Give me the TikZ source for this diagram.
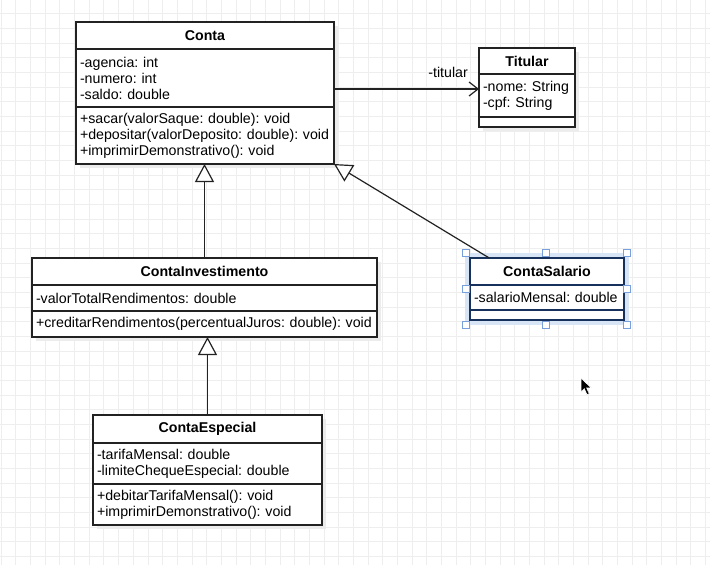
\documentclass[tikz,border=0pt]{standalone}
\usepackage{fontspec}
\setmainfont{Liberation Sans}
\usepackage{xcolor}
\usetikzlibrary{calc,positioning,arrows.meta}

\definecolor{lineC}{RGB}{34,34,34}
\definecolor{gridC}{RGB}{238,238,238}
\definecolor{selC}{RGB}{22,50,92}
\definecolor{handleC}{RGB}{120,160,220}
\definecolor{glowC}{RGB}{216,229,246}
\definecolor{shadeC}{RGB}{236,236,236}

\pgfdeclarelayer{grid}\pgfdeclarelayer{shade}
\pgfsetlayers{grid,shade,main}
\frenchspacing
\hyphenpenalty=10000

\tikzset{
  umlbox/.style={draw=lineC, line width=1.3pt, fill=white, outer sep=0pt,
    inner xsep=4pt, inner ysep=3pt, font=\fontsize{14.2}{16}\selectfont},
  umltitle/.style={umlbox, font=\fontsize{14.2}{16}\selectfont\bfseries,
    minimum width=#1, minimum height=27pt, align=center},
  umlpart/.style={umlbox, text width=#1, align=left},
  umlsel/.style={draw=selC, line width=1.8pt},
  gridline/.style={draw=gridC, line width=0.8pt},
  inherit/.style={draw=lineC, line width=1.2pt,
    -{Triangle[length=18pt,width=19pt,fill=white]}},
  assoc/.style={draw=lineC, line width=1.2pt, -{Straight Barb[length=9pt,width=14pt]}},
  handle/.style={draw=handleC, fill=white, line width=0.8pt, minimum size=7pt,
    inner sep=0pt, outer sep=0pt}
}

\begin{document}
\begin{tikzpicture}[x=1pt,y=-1pt]
  \useasboundingbox (0,0) rectangle (710,565);

  % grid of the canvas
  \begin{pgfonlayer}{grid}
    \fill[white] (0,0) rectangle (710,565);
    \foreach \i in {0,...,48} \draw[gridline] ({1.2+14.67*\i},0) -- ++(0,565);
    \foreach \j in {1,...,38} \draw[gridline] (0,{-1+14.67*\j}) -- ++(710,0);
  \end{pgfonlayer}

  % Conta
  \node[umltitle=258pt, anchor=north west] (Conta_t) at (76,22) {Conta};
  \node[umlpart=250pt, minimum height=58pt, below=0pt of Conta_t] (Conta_a)
    {-agencia: int\\-numero: int\\-saldo: double};
  \node[umlpart=250pt, minimum height=57pt, below=0pt of Conta_a] (Conta_m)
    {+sacar(valorSaque: double): void\\+depositar(valorDeposito: double): void\\+imprimirDemonstrativo(): void};

  % Titular
  \node[umltitle=96pt, minimum height=26pt, anchor=north west] (Titular_t) at (479,48) {Titular};
  \node[umlpart=88pt, minimum height=43pt, below=0pt of Titular_t] (Titular_a)
    {-nome: String\\-cpf: String};
  \node[umlpart=88pt, minimum height=10pt, below=0pt of Titular_a] (Titular_m) {};

  % ContaInvestimento
  \node[umltitle=345pt, anchor=north west] (ContaInv_t) at (32,258) {ContaInvestimento};
  \node[umlpart=337pt, minimum height=26pt, below=0pt of ContaInv_t] (ContaInv_a)
    {-valorTotalRendimentos: double};
  \node[umlpart=337pt, minimum height=26pt, below=0pt of ContaInv_a] (ContaInv_m)
    {+creditarRendimentos(percentualJuros: double): void};

  % ContaEspecial
  \node[umltitle=229pt, minimum height=28pt, anchor=north west] (ContaEsp_t) at (93,415) {ContaEspecial};
  \node[umlpart=221pt, minimum height=41pt, below=0pt of ContaEsp_t] (ContaEsp_a)
    {-tarifaMensal: double\\-limiteChequeEspecial: double};
  \node[umlpart=221pt, minimum height=41pt, below=0pt of ContaEsp_a] (ContaEsp_m)
    {+debitarTarifaMensal(): void\\+imprimirDemonstrativo(): void};

  % ContaSalario (selected)
  \node[umltitle=154pt, umlsel, anchor=north west] (ContaSal_t) at (470,258) {ContaSalario};
  \node[umlpart=146pt, umlsel, minimum height=25pt, below=0pt of ContaSal_t] (ContaSal_a)
    {-salarioMensal: double};
  \node[umlpart=146pt, umlsel, minimum height=10pt, below=0pt of ContaSal_a] (ContaSal_m) {};

  % shadows and selection glow
  \begin{pgfonlayer}{shade}
    \foreach \cls in {Conta, Titular, ContaInv, ContaEsp}
      \fill[shadeC] ([shift={(4,4)}]\cls_t.north west) rectangle ([shift={(4,4)}]\cls_m.south east);
    \fill[glowC] ([shift={(-5,-5)}]ContaSal_t.north west) rectangle ([shift={(5,5)}]ContaSal_m.south east);
  \end{pgfonlayer}
  \foreach \hx/\hy [count=\k] in {466/253, 546/253, 627/253, 466/289, 627/289, 466/325, 546/325, 627/325}
    \node[handle] (h\k) at (\hx,\hy) {};

  % connectors
  \draw[inherit] (ContaInv_t.north) -- (ContaInv_t.north |- Conta_m.south);
  \draw[inherit] (ContaEsp_t.north) -- (ContaEsp_t.north |- ContaInv_m.south);
  \coordinate (salTop) at ($(ContaSal_t.north west)!0.125!(ContaSal_t.north east)$);
  \draw[inherit] (salTop) -- (Conta_m.south east);
  \coordinate (tip) at ($(Titular_a.north west)+(0,15)$);
  \draw[assoc] (Conta_a.east |- tip) -- (tip);
  \node[font=\fontsize{14.2}{16}\selectfont, anchor=base east, inner sep=0pt] (titLbl)
    at ($(tip)+(-11,-12)$) {-titular};

  % mouse pointer
  \fill[black, draw=white, line width=0.6pt] (581,378) -- ++(0,14) -- ++(3.3,-3.3)
    -- ++(2.7,6) -- ++(2.3,-1) -- ++(-2.7,-5.8) -- ++(4.6,0) -- cycle;
\end{tikzpicture}
\end{document}
